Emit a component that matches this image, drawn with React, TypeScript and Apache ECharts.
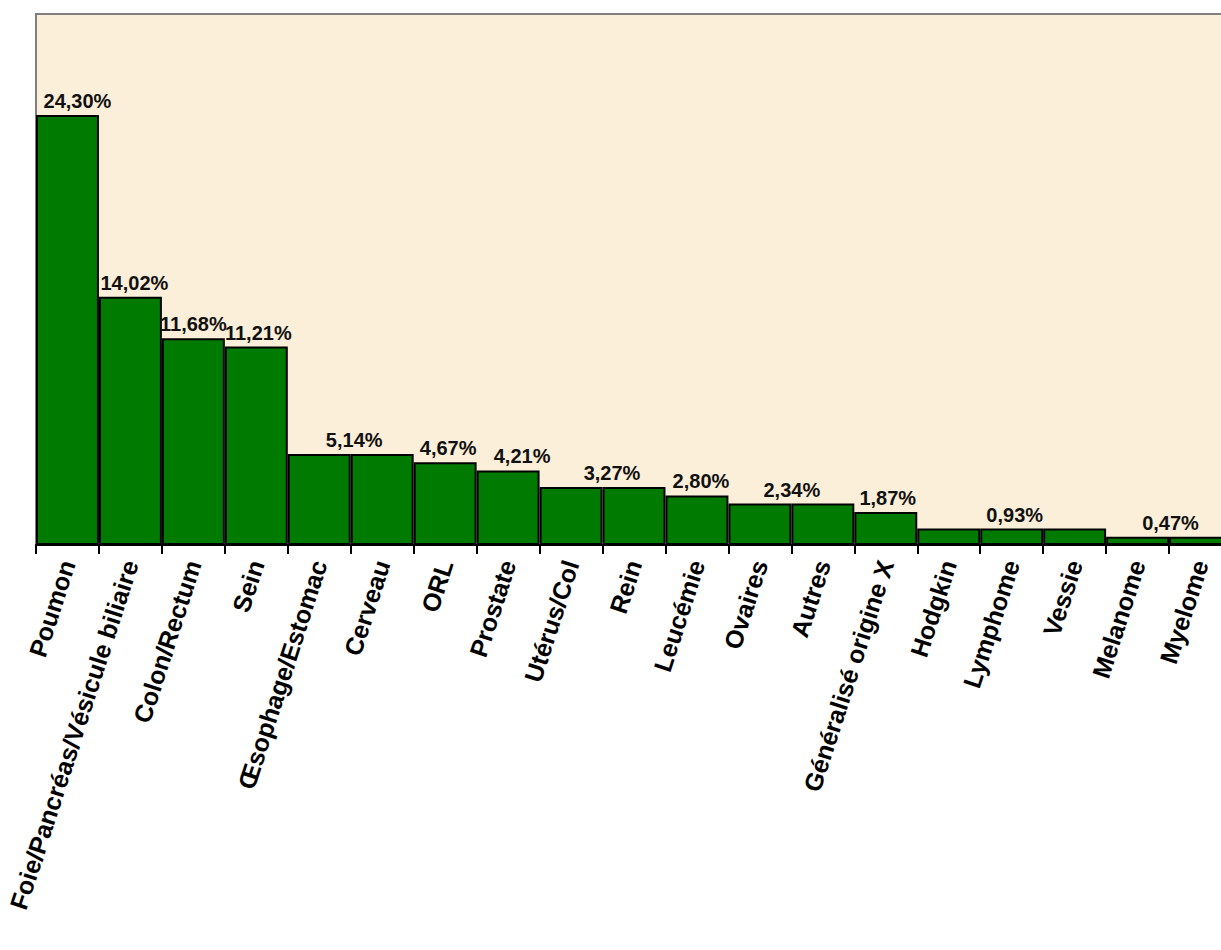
import React, { useEffect, useRef } from "react";
import * as echarts from "echarts";

const categories = [
  "Poumon",
  "Foie/Pancréas/Vésicule biliaire",
  "Colon/Rectum",
  "Sein",
  "Œsophage/Estomac",
  "Cerveau",
  "ORL",
  "Prostate",
  "Utérus/Col",
  "Rein",
  "Leucémie",
  "Ovaires",
  "Autres",
  "Généralisé origine X",
  "Hodgkin",
  "Lymphome",
  "Vessie",
  "Melanome",
  "Myelome",
];

const values = [
  24.3, 14.02, 11.68, 11.21, 5.14, 5.14, 4.67, 4.21, 3.27, 3.27, 2.8, 2.34, 2.34, 1.87, 0.93, 0.93, 0.93, 0.47, 0.47,
];

// which bars carry a visible value label
const labelShown = [
  true, true, true, true, false, true, true, true, false, true, true, false, true, true, false, true, false, false, true,
];

// horizontal nudge of each visible label (style only)
const labelShiftX = [10, 4, 0, 2, 0, -28, 3, 14, 0, -22, 4, 0, -31, 2, 0, 3, 0, 0, -30];

const fmt = (v: number) => v.toFixed(2).replace(".", ",") + "%";

export default function App() {
  const ref = useRef<HTMLDivElement>(null);
  useEffect(() => {
    if (!ref.current) return;
    const chart = echarts.init(ref.current, null, { renderer: "svg" });
    chart.setOption({
      animation: false,
      backgroundColor: "#ffffff",
      grid: {
        left: 36,
        top: 14,
        width: 1196,
        height: 531,
        show: true,
        backgroundColor: "#fcefd9",
        borderColor: "#7f7f7f",
        borderWidth: 2,
        containLabel: false,
        outerBoundsMode: "none",
      },
      xAxis: {
        type: "category",
        data: categories,
        boundaryGap: true,
        axisLine: { show: true, lineStyle: { color: "#000", width: 2 } },
        axisTick: { show: true, length: 9, lineStyle: { color: "#000", width: 2 }, alignWithLabel: false },
        axisLabel: {
          interval: 0,
          rotate: 72,
          margin: 16,
          color: "#000",
          fontFamily: "Liberation Sans, Arial, sans-serif",
          fontWeight: "bold",
          fontSize: 25,
          hideOverlap: false,
        },
      },
      yAxis: {
        type: "value",
        min: 0,
        max: 30,
        show: false,
        splitLine: { show: false },
      },
      series: [
        {
          type: "bar",
          barCategoryGap: 0,
          itemStyle: { color: "#007a00", borderColor: "#000", borderWidth: 2 },
          data: values.map((v, i) => ({
            value: v,
            label: {
              show: labelShown[i],
              position: "top",
              distance: 4,
              offset: [labelShiftX[i], 0],
              formatter: () => fmt(v),
              color: "#111",
              fontFamily: "Liberation Sans, Arial, sans-serif",
              fontWeight: "bold",
              fontSize: 20,
            },
          })),
        },
      ],
    });
    return () => chart.dispose();
  }, []);
  return (
    <div
      ref={ref}
      style={{ position: "fixed", left: 0, top: 0, width: 1260, height: 950 }}
    />
  );
}
